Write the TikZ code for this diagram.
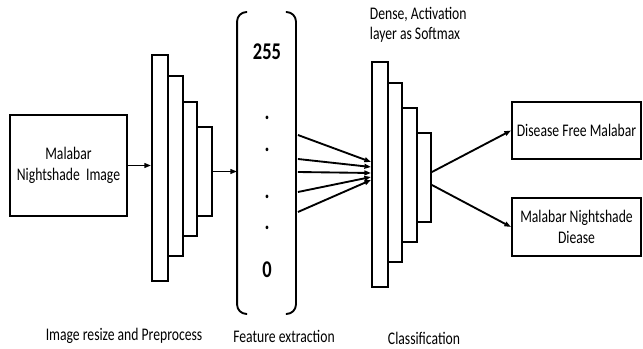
\documentclass[tikz,border=0pt]{standalone}
\usepackage{fontspec}
\setmainfont{Carlito}
\newfontfamily\tallfont[FakeStretch=0.77]{Carlito}
\usetikzlibrary{arrows.meta,fit,calc}

\tikzset{every picture/.style={line width=1.4pt}}
\tikzset{
  box/.style={draw, inner sep=0pt},
  txt/.style={inner sep=0.75pt, font=\tallfont\fontsize{13.3}{15.5}\selectfont},
  num/.style={inner sep=0.75pt, font=\tallfont\bfseries\fontsize{18}{20}\selectfont},
  arr/.style={-{Triangle[length=5pt,width=3.5pt]}}
}

\begin{document}
\begin{tikzpicture}[x=0.75pt,y=0.75pt,yscale=-1,xscale=1]
        \useasboundingbox (0,0) rectangle (643,349);

        %Shape: Rectangle
        \node [box, fit={(10,115)(127,216)}] (img) {};
        \node [txt, align=center] (imgtxt) at (img.center) {Malabar\\Nightshade\ \ Image};

        %Shape: Layers (preprocess)
        \foreach \i/\xa/\ya/\xb/\yb in {1/152/55/168/281, 2/168/76/183/256, 3/183/102/197/236, 4/197/127/212/216}
            \node [box, fit={(\xa,\ya)(\xb,\yb)}] (p\i) {};

        %Shape: Brackets
        \node [inner sep=0pt, fit={(238,13)(295,313)}] (feat) {};
        \draw [rounded corners=7pt] ([xshift=7.5pt]feat.north west) -- (feat.north west) -- (feat.south west) -- ([xshift=7.5pt]feat.south west);
        \draw [rounded corners=7pt] ([xshift=-7.5pt]feat.north east) -- (feat.north east) -- (feat.south east) -- ([xshift=-7.5pt]feat.south east);

        % Text Node
        \node [num] (top) at (267,52) {255};
        \foreach \y [count=\k] in {118,150,197,228}
            \node [num] (dot\k) at (267,\y) {.};
        \node [num] (bottom) at (267,270) {0};

        %Shape: Layers (classification)
        \foreach \i/\xa/\ya/\xb/\yb in {1/372/62/388/287, 2/388/83/402/262, 3/402/108/417/242, 4/417/133/431/222}
            \node [box, fit={(\xa,\ya)(\xb,\yb)}] (c\i) {};

        %Shape: Rectangle
        \node [box, fit={(512,102)(641,159)}] (free) {};
        \node [txt] (freetxt) at (free.center) {Disease Free Malabar};
        %Shape: Rectangle
        \node [box, fit={(512,198)(641,256)}] (sick) {};
        \node [txt, align=center] (sicktxt) at (sick.center) {Malabar Nightshade\\Diease};

        %Straight Lines
        \draw [arr] (img.east) -- (p1.west |- img.east);
        \draw [arr] (p4.east) -- (feat.west |- p4.east);
        \foreach \ya/\dy in {135/-12.5, 159/-7.5, 172/-1.5, 192/2.5, 212/5.5}
            \draw [arr] ([xshift=1.5pt]feat.east |- 0,\ya) -- ($(c1.west)+(0,\dy)$);
        \draw [arr] ($(c4.east)+(0,-5.5)$) -- (free.west);
        \draw [arr] ($(c4.east)+(0,7.5)$) -- (sick.west);

        % Text Node
        \node [txt, anchor=north west, align=left] (dense) at (368,5) {Dense, Activation\\layer as Softmax};
        % Text Node
        \node [txt] (lpre) at (124,336) {Image resize and Preprocess};
        % Text Node
        \node [txt] (lfeat) at (284,336) {Feature extraction};
        % Text Node
        \node [txt] (lcls) at (424,338) {Classification};

\end{tikzpicture}
\end{document}
